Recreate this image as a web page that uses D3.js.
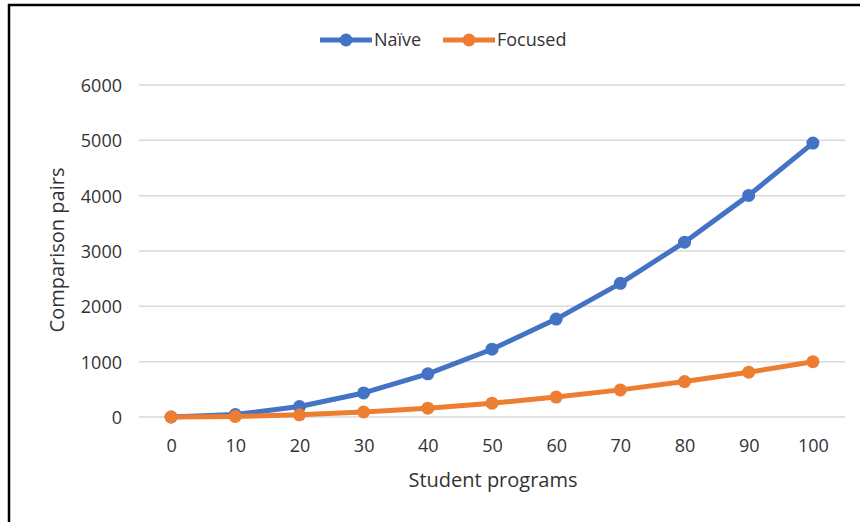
<!DOCTYPE html>
<html>
<head>
<meta charset="utf-8">
<script src="https://cdn.jsdelivr.net/npm/d3@7"></script>
<style>
  html, body { margin: 0; padding: 0; background: #fff; }
  svg { display: block; }
  text { font-family: "Open Sans", "Liberation Sans", sans-serif; fill: #333; }
</style>
</head>
<body>
<svg id="chart" width="860" height="522"></svg>
<script>
// Number of student programs on the x axis
const programs = [0, 10, 20, 30, 40, 50, 60, 70, 80, 90, 100];
// Comparison pairs required by each strategy
const naive = [0, 45, 190, 435, 780, 1225, 1770, 2415, 3160, 4005, 4950];
const focused = [0, 10, 40, 90, 160, 250, 360, 490, 640, 810, 1000];
const yTicks = [0, 1000, 2000, 3000, 4000, 5000, 6000];
const seriesNames = ["Naïve", "Focused"];
const seriesColors = ["#4472C4", "#ED7D31"];

const svg = d3.select("#chart");

// Chart frame
svg.append("rect")
  .attr("x", 9).attr("y", 5)
  .attr("width", 900).attr("height", 560)
  .attr("fill", "none").attr("stroke", "#000").attr("stroke-width", 2.5);

const x = d3.scalePoint().domain(programs).range([139, 845]).padding(0.5);
const y = d3.scaleLinear().domain([0, 6000]).range([417, 85]);

// Horizontal gridlines
svg.append("g").selectAll("line").data(yTicks).join("line")
  .attr("x1", 139).attr("x2", 845)
  .attr("y1", d => y(d)).attr("y2", d => y(d))
  .attr("stroke", "#d9d9d9").attr("stroke-width", 1.5);

// Y axis labels
const yAxis = d3.axisLeft(y).tickValues(yTicks).tickFormat(d3.format("d"))
  .tickSize(0).tickPadding(0);
svg.append("g").attr("transform", "translate(122,0)").call(yAxis)
  .call(g => g.select(".domain").remove())
  .call(g => g.selectAll("text").attr("font-size", 18)
    .attr("font-family", "Open Sans").attr("fill", "#404040").attr("dy", "0.36em"));

// X axis labels
const xAxis = d3.axisBottom(x).tickSize(0).tickPadding(0);
svg.append("g").attr("transform", "translate(0,439)").call(xAxis)
  .call(g => g.select(".domain").remove())
  .call(g => g.selectAll("text").attr("font-size", 18)
    .attr("font-family", "Open Sans").attr("fill", "#404040").attr("dy", "0.71em"));

// Axis titles
svg.append("text").attr("x", 493).attr("y", 487)
  .attr("text-anchor", "middle").attr("font-size", 20).attr("fill", "#333")
  .text("Student programs");
svg.append("text")
  .attr("transform", "translate(64,250) rotate(-90)")
  .attr("text-anchor", "middle").attr("font-size", 20).attr("fill", "#333")
  .text("Comparison pairs");

// Series lines and markers
const line = d3.line().x((d, i) => x(programs[i])).y(d => y(d));
[naive, focused].forEach((vals, k) => {
  const g = svg.append("g");
  g.append("path").datum(vals)
    .attr("d", line).attr("fill", "none")
    .attr("stroke", seriesColors[k]).attr("stroke-width", 5)
    .attr("stroke-linejoin", "round").attr("stroke-linecap", "round");
  g.selectAll("circle").data(vals).join("circle")
    .attr("cx", (d, i) => x(programs[i])).attr("cy", d => y(d))
    .attr("r", 6.5).attr("fill", seriesColors[k]);
});

// Legend
const legendX = [320, 443];
seriesNames.forEach((name, k) => {
  const lg = svg.append("g").attr("transform", `translate(${legendX[k]},40)`);
  lg.append("line").attr("x1", 0).attr("x2", 52).attr("y1", 0).attr("y2", 0)
    .attr("stroke", seriesColors[k]).attr("stroke-width", 5);
  lg.append("circle").attr("cx", 26).attr("cy", 0).attr("r", 6.5).attr("fill", seriesColors[k]);
  lg.append("text").attr("x", 54).attr("y", 0).attr("dy", "0.36em")
    .attr("font-size", 18).attr("fill", "#333")
    .text(name);
});
</script>
</body>
</html>
